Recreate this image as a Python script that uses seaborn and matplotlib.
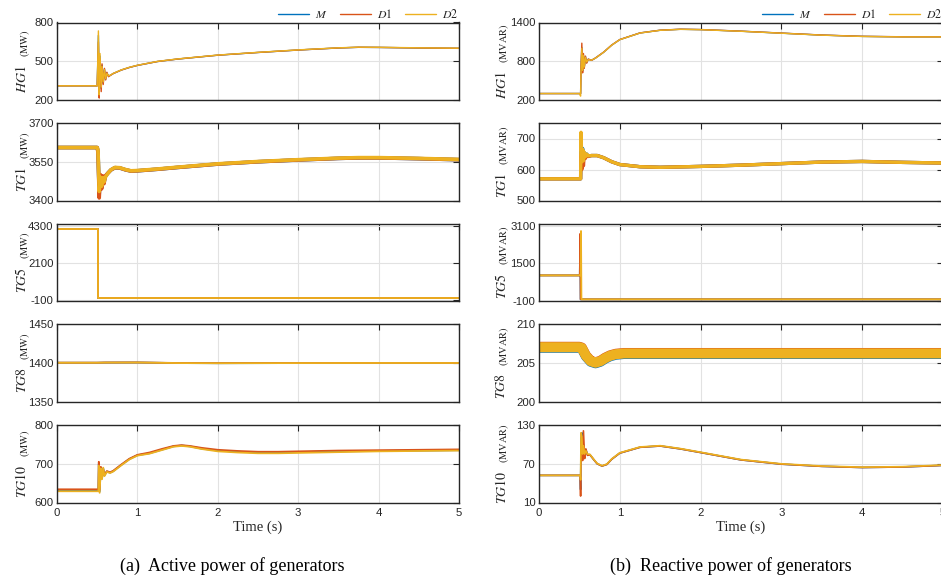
import matplotlib
matplotlib.use("Agg")
import matplotlib.pyplot as plt
from matplotlib.lines import Line2D
import pandas as pd
import seaborn as sns

sns.set_style("white")
plt.rcParams["font.family"] = ["Liberation Sans", "DejaVu Sans"]
plt.rcParams["mathtext.fontset"] = "stix"
plt.rcParams["axes.unicode_minus"] = False

SERIES = ["M", "D1", "D2"]
SERIES_TEX = [r"$M$", r"$D1$", r"$D2$"]
COLORS = {"M": "#0072BD", "D1": "#D95319", "D2": "#EDB120"}

# ---------------- active power (MW) ----------------
t_p_hg1 = [0, 0.50, 0.515, 0.525, 0.535, 0.55, 0.56, 0.575, 0.59, 0.605, 0.62, 0.64, 0.66, 0.70,
           0.80, 0.90, 1.00, 1.25, 1.50, 2.00, 2.50, 3.00, 3.50, 3.75, 4.00, 4.50, 5.00]
p_hg1_m = [310, 310, 700, 260, 540, 290, 470, 330, 440, 360, 410, 385, 390, 405,
           432, 452, 468, 498, 517, 547, 568, 587, 603, 608, 607, 603, 600]
p_hg1_d1 = [310, 310, 650, 215, 520, 265, 480, 320, 445, 355, 415, 380, 389, 405,
            432, 452, 468, 498, 517, 547, 568, 587, 603, 608, 607, 603, 600]
p_hg1_d2 = [310, 310, 735, 240, 560, 300, 460, 340, 435, 365, 405, 388, 391, 406,
            433, 453, 469, 499, 518, 548, 569, 588, 604, 609, 608, 604, 601]

t_p_tg1 = [0, 0.50, 0.51, 0.525, 0.54, 0.555, 0.57, 0.585, 0.60, 0.63, 0.67, 0.72, 0.78,
           0.85, 0.92, 1.00, 1.25, 1.50, 2.00, 2.50, 3.00, 3.50, 3.75, 4.00, 4.50, 5.00]
p_tg1_m = [3605, 3605, 3590, 3425, 3495, 3450, 3490, 3470, 3492, 3505, 3518, 3527, 3526,
           3519, 3514, 3515, 3521, 3528, 3541, 3550, 3557, 3563, 3565, 3565, 3562, 3558]
p_tg1_d1 = [3605, 3605, 3585, 3410, 3500, 3445, 3495, 3465, 3495, 3505, 3518, 3527, 3526,
            3519, 3514, 3515, 3521, 3528, 3541, 3550, 3557, 3563, 3565, 3565, 3562, 3558]
p_tg1_d2 = [3605, 3605, 3595, 3435, 3490, 3455, 3488, 3472, 3490, 3504, 3519, 3528, 3527,
            3520, 3515, 3516, 3522, 3529, 3542, 3551, 3558, 3564, 3566, 3566, 3563, 3559]

t_p_tg5 = [0, 0.515, 0.515, 5.00]
p_tg5_m = [4150, 4150, 0, 0]
p_tg5_d1 = [4150, 4150, 0, 0]
p_tg5_d2 = [4150, 4150, 0, 0]

t_p_tg8 = [0, 0.50, 0.60, 1.00, 1.50, 2.00, 3.00, 4.00, 5.00]
p_tg8_m = [1400, 1400, 1400.2, 1400.3, 1399.6, 1399.4, 1399.6, 1399.7, 1399.7]
p_tg8_d1 = [1400.1, 1400.1, 1400.3, 1400.4, 1399.7, 1399.5, 1399.7, 1399.8, 1399.8]
p_tg8_d2 = [1400, 1400, 1400.2, 1400.3, 1399.6, 1399.4, 1399.6, 1399.7, 1399.7]

t_p_tg10 = [0, 0.515, 0.52, 0.53, 0.545, 0.56, 0.575, 0.59, 0.62, 0.66, 0.70, 0.80, 0.90, 1.00,
            1.15, 1.30, 1.45, 1.55, 1.65, 1.80, 2.00, 2.25, 2.50, 2.75, 3.00, 3.50, 4.00, 4.50, 5.00]
p_tg10_m = [631, 631, 700, 628, 690, 662, 688, 670, 680, 677, 681, 697, 712, 722,
            727, 736, 745, 747, 745, 739, 734, 731, 729, 729, 730, 732, 733, 734, 735]
p_tg10_d1 = [634, 634, 705, 632, 692, 665, 686, 672, 681, 678, 682, 698, 713, 723,
             729, 738, 746, 748, 746, 741, 736, 733, 731, 731, 732, 734, 735, 736, 737]
p_tg10_d2 = [629, 629, 695, 625, 688, 660, 690, 668, 679, 676, 680, 696, 711, 721,
             726, 735, 744, 746, 744, 738, 732, 729, 727, 727, 728, 730, 732, 733, 734]

# ---------------- reactive power (MVAR) ----------------
t_q_hg1 = [0, 0.50, 0.515, 0.52, 0.53, 0.54, 0.55, 0.56, 0.575, 0.59, 0.61, 0.65, 0.70,
           0.80, 0.90, 1.00, 1.25, 1.50, 1.75, 2.00, 2.50, 3.00, 3.50, 4.00, 4.50, 5.00]
q_hg1_m = [300, 300, 300, 680, 1010, 650, 900, 700, 870, 780, 830, 815, 850,
           940, 1050, 1135, 1238, 1280, 1295, 1290, 1265, 1235, 1205, 1185, 1178, 1178]
q_hg1_d1 = [300, 300, 300, 700, 1080, 620, 920, 690, 880, 770, 835, 813, 852,
            941, 1051, 1136, 1239, 1281, 1296, 1291, 1266, 1236, 1206, 1186, 1179, 1179]
q_hg1_d2 = [300, 300, 260, 650, 1000, 660, 890, 710, 860, 790, 825, 817, 849,
            939, 1049, 1134, 1237, 1279, 1294, 1289, 1264, 1234, 1204, 1184, 1177, 1177]

t_q_tg1 = [0, 0.50, 0.515, 0.52, 0.53, 0.54, 0.55, 0.56, 0.575, 0.59, 0.61, 0.65, 0.72,
           0.80, 0.90, 1.00, 1.25, 1.50, 2.00, 2.50, 3.00, 3.50, 4.00, 4.50, 5.00]
q_tg1_m = [570, 570, 570, 660, 620, 668, 630, 655, 640, 650, 643, 645, 645,
           638, 625, 616, 609, 607, 610, 614, 619, 624, 626, 623, 621]
q_tg1_d1 = [570, 570, 570, 650, 600, 662, 612, 648, 636, 648, 642, 645, 645,
            638, 625, 616, 609, 607, 610, 614, 619, 624, 626, 623, 621]
q_tg1_d2 = [570, 570, 570, 720, 625, 665, 628, 656, 641, 650, 644, 645, 645,
            638, 625, 616, 609, 607, 610, 614, 619, 624, 626, 623, 621]

t_q_tg5 = [0, 0.505, 0.51, 0.515, 0.52, 0.525, 0.53, 5.00]
q_tg5_m = [980, 980, 2700, -40, -40, -40, -40, -40]
q_tg5_d1 = [980, 980, 2750, -40, -40, -40, -40, -40]
q_tg5_d2 = [980, 980, 980, 980, 2870, -40, -40, -40]

t_q_tg8 = [0, 0.50, 0.53, 0.58, 0.64, 0.70, 0.76, 0.82, 0.88, 0.95, 1.05, 1.50, 2.00, 3.00, 4.00, 5.00]
q_tg8_m = [206.93, 206.93, 206.83, 205.83, 205.13, 204.93, 205.13, 205.53, 205.83, 206.03, 206.13, 206.13, 206.13, 206.13, 206.13, 206.13]
q_tg8_d1 = [207.06, 207.06, 206.96, 205.96, 205.26, 205.06, 205.26, 205.66, 205.96, 206.16, 206.26, 206.26, 206.26, 206.26, 206.26, 206.26]
q_tg8_d2 = [207.0, 207.0, 206.9, 205.9, 205.2, 205.0, 205.2, 205.6, 205.9, 206.1, 206.2, 206.2, 206.2, 206.2, 206.2, 206.2]

t_q_tg10 = [0, 0.50, 0.51, 0.515, 0.52, 0.53, 0.54, 0.55, 0.565, 0.58, 0.60, 0.63, 0.68, 0.72,
            0.78, 0.84, 0.90, 1.00, 1.25, 1.50, 1.75, 2.00, 2.50, 3.00, 3.50, 4.00, 4.50, 5.00]
q_tg10_m = [52, 52, 52, 30, 110, 118, 80, 100, 82, 92, 84, 84, 76, 70,
            66.5, 69, 77, 86.5, 95.5, 97.5, 93, 87.4, 76, 69.4, 66, 64.2, 65, 67.5]
q_tg10_d1 = [52, 52, 52, 20, 95, 110, 75, 121, 78, 93, 83, 84, 76, 70,
             66.5, 69, 77, 86.5, 95.5, 97.5, 93, 87.4, 76, 69.4, 66, 64.2, 65, 67.5]
q_tg10_d2 = [52, 52, 52, 45, 118, 112, 85, 98, 85, 90, 85, 84.5, 76.5, 70.5,
             67, 69.5, 77.5, 87, 96, 98, 93.5, 87.9, 76.5, 69.9, 66.5, 64.7, 65.5, 68]

panels = [
    # (column, row, name, unit, t, M, D1, D2, ylim, yticks, linewidth)
    (0, 0, "HG1", "(MW)", t_p_hg1, p_hg1_m, p_hg1_d1, p_hg1_d2, (200, 800), [200, 500, 800], 1.0),
    (0, 1, "TG1", "(MW)", t_p_tg1, p_tg1_m, p_tg1_d1, p_tg1_d2, (3400, 3700), [3400, 3550, 3700], 2.6),
    (0, 2, "TG5", "(MW)", t_p_tg5, p_tg5_m, p_tg5_d1, p_tg5_d2, (-160, 4460), [-100, 2100, 4300], 1.3),
    (0, 3, "TG8", "(MW)", t_p_tg8, p_tg8_m, p_tg8_d1, p_tg8_d2, (1350, 1450), [1350, 1400, 1450], 1.3),
    (0, 4, "TG10", "(MW)", t_p_tg10, p_tg10_m, p_tg10_d1, p_tg10_d2, (600, 800), [600, 700, 800], 1.3),
    (1, 0, "HG1", "(MVAR)", t_q_hg1, q_hg1_m, q_hg1_d1, q_hg1_d2, (200, 1400), [200, 800, 1400], 1.0),
    (1, 1, "TG1", "(MVAR)", t_q_tg1, q_tg1_m, q_tg1_d1, q_tg1_d2, (500, 750), [500, 600, 700], 2.4),
    (1, 2, "TG5", "(MVAR)", t_q_tg5, q_tg5_m, q_tg5_d1, q_tg5_d2, (-110, 3190), [-100, 1500, 3100], 1.3),
    (1, 3, "TG8", "(MVAR)", t_q_tg8, q_tg8_m, q_tg8_d1, q_tg8_d2, (200, 210), [200, 205, 210], 7.2),
    (1, 4, "TG10", "(MVAR)", t_q_tg10, q_tg10_m, q_tg10_d1, q_tg10_d2, (10, 130), [10, 70, 130], 1.2),
]

W, H = 941, 581
COL_X = [57, 539]
COL_W = [402, 404]
ROW_TOP = [22.5, 123, 223.5, 324, 425]
ROW_H = 77.5
INK = "#262626"
# horizontal offsets (px from the axes' left edge) of the name and unit labels
LABEL_DX = [(-35, -31.5), (-38, -34.5)]


def long_frame(t, m, d1, d2):
    parts = [pd.DataFrame({"t": t, "value": v, "series": s}) for s, v in zip(SERIES, (m, d1, d2))]
    return pd.concat(parts, ignore_index=True)


fig = plt.figure(figsize=(W / 100, H / 100), dpi=100)
axes = []
for col, row, name, unit, t, m, d1, d2, ylim, yticks, lw in panels:
    ax = fig.add_axes([COL_X[col] / W, 1 - (ROW_TOP[row] + ROW_H) / H, COL_W[col] / W, ROW_H / H])
    df = long_frame(t, m, d1, d2)
    sns.lineplot(data=df, x="t", y="value", hue="series", hue_order=SERIES, palette=COLORS,
                 estimator=None, sort=False, linewidth=lw, legend=False, ax=ax)
    ax.set_xlim(0, 5)
    ax.set_xticks(range(6))
    ax.set_ylim(*ylim)
    ax.set_yticks(yticks)
    ax.set_ylabel("")
    ax.set_xlabel("")
    ax.grid(True, color="#e2e2e2", linewidth=0.8)
    ax.set_axisbelow(True)
    ax.tick_params(direction="in", length=4.5, width=0.8, top=True, right=True,
                   colors=INK, labelsize=8.2)
    ax.tick_params(axis="y", pad=2.5)
    ax.tick_params(axis="x", pad=4)
    for sp in ax.spines.values():
        sp.set_color(INK)
        sp.set_linewidth(1.0)
    if row < 4:
        ax.set_xticklabels([])
    else:
        ax.set_xlabel("Time (s)", family="Liberation Serif", fontsize=10.5, color=INK, labelpad=1.5)
    if row == 0:
        handles = [Line2D([], [], color=COLORS[s], linewidth=1.0) for s in SERIES]
        ax.legend(handles, SERIES_TEX, loc="lower right", bbox_to_anchor=(1.0, 1.0), ncol=3,
                  frameon=False, fontsize=8.5, handlelength=2.6, handletextpad=0.5,
                  columnspacing=1.1, borderaxespad=0.0, borderpad=0.1)
    axes.append((ax, col, name, unit))

# stacked y labels: italic generator name followed by a smaller unit
fig.canvas.draw()
renderer = fig.canvas.get_renderer()
for ax, col, name, unit in axes:
    ax_w = COL_W[col]
    dx_name, dx_unit = LABEL_DX[col]
    t1 = ax.text(dx_name / ax_w, 0, rf"${name}$", rotation=90, transform=ax.transAxes,
                 ha="center", va="bottom", fontsize=10, color=INK)
    t2 = ax.text(dx_unit / ax_w, 0, rf"$\mathrm{{{unit}}}$", rotation=90, transform=ax.transAxes,
                 ha="center", va="bottom", fontsize=7.5, color=INK)
    h1 = t1.get_window_extent(renderer).height / ROW_H
    h2 = t2.get_window_extent(renderer).height / ROW_H
    gap = 8 / ROW_H
    y0 = 0.5 - (h1 + gap + h2) / 2
    t1.set_y(y0)
    t2.set_y(y0 + h1 + gap)

fig.text(232 / W, 1 - 566 / H, "(a)  Active power of generators", ha="center", va="center",
         fontsize=13, family="Liberation Serif", color="black")
fig.text(731 / W, 1 - 566 / H, "(b)  Reactive power of generators", ha="center", va="center",
         fontsize=13, family="Liberation Serif", color="black")

fig.savefig("out.png", dpi=100)
